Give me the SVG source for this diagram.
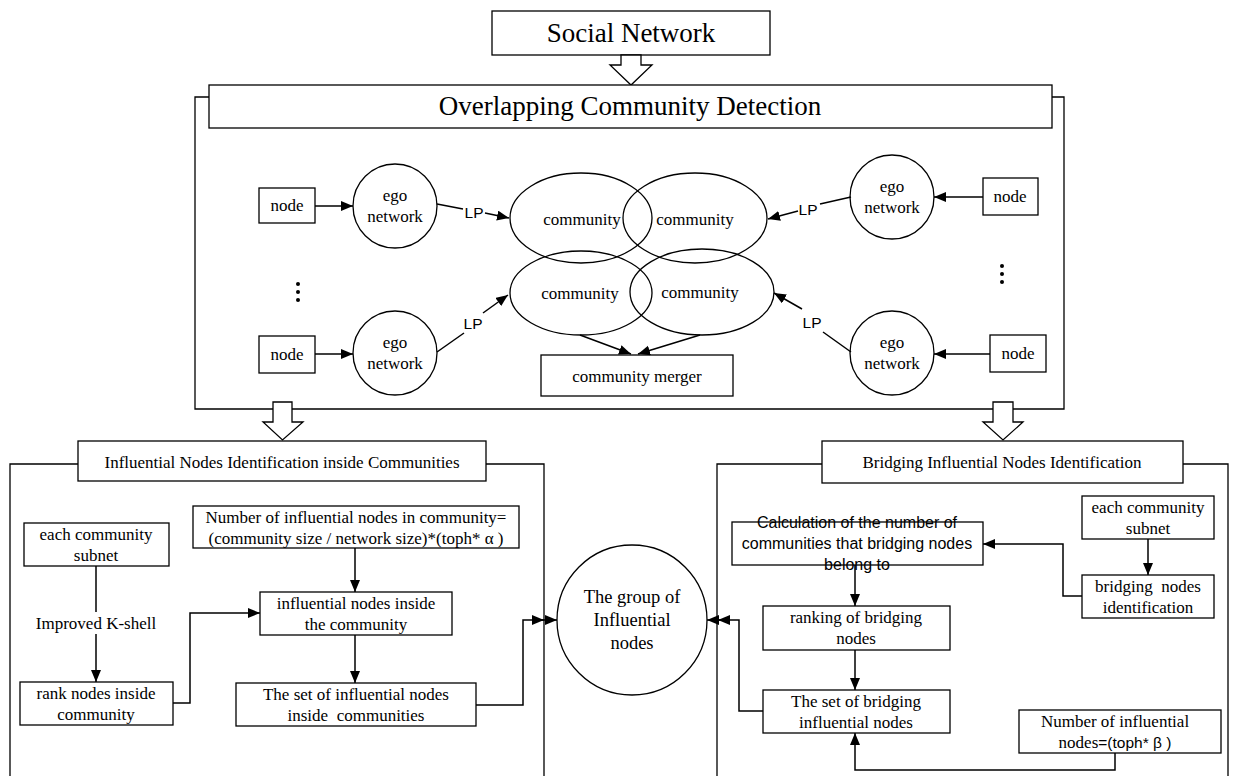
<svg xmlns="http://www.w3.org/2000/svg" width="1234" height="776" viewBox="0 0 1234 776">
<style>
.bx{fill:#fff;stroke:#000;stroke-width:1.3}
.fr{fill:none;stroke:#000;stroke-width:1.3}
.el{fill:none;stroke:#000;stroke-width:1.3}
.t{font-family:"Liberation Serif","Times New Roman",serif;font-size:17px;text-anchor:middle;dominant-baseline:central;fill:#000}
.s{font-family:"Liberation Sans",Arial,sans-serif;font-size:15.5px;text-anchor:middle;dominant-baseline:central;fill:#000}
.big{font-size:27px}
.ln{fill:none;stroke:#000;stroke-width:1.5}
.ar{fill:none;stroke:#000;stroke-width:1.5;marker-end:url(#ah)}
.ha{fill:#fff;stroke:#000;stroke-width:1.3}
</style>
<defs>
<marker id="ah" markerUnits="userSpaceOnUse" markerWidth="13" markerHeight="11" refX="12" refY="5" orient="auto">
<path d="M0,0 L12,5 L0,10 Z" fill="#000"/>
</marker>
</defs>

<!-- frames -->
<g id="frames">
<path class="fr" d="M209,97 H195 V409 H1064 V97 H1052"/>
<path class="fr" d="M78,464 H10 V776"/>
<path class="fr" d="M486,464 H544 V776"/>
<path class="fr" d="M822,464 H717 V776"/>
<path class="fr" d="M1183,464 H1228 V776"/>
</g>

<g id="social-network">
<rect class="bx" x="492" y="11" width="278" height="44"/>
<text class="t big" x="631" y="33">Social Network</text>
</g>

<g id="hollow-arrows">
<polygon class="ha" points="621,55 641,55 641,65 652,65 631,85 610,65 621,65"/>
<polygon class="ha" points="273,402 292,402 292,422 303,422 282.5,440 263,422 273,422"/>
<polygon class="ha" points="993,402 1013,402 1013,422 1023,422 1003,440 983,422 993,422"/>
</g>

<g id="ocd-header">
<rect class="bx" x="209" y="85" width="843" height="43"/>
<text class="t big" x="630" y="106">Overlapping Community Detection</text>
</g>

<g id="node-tl"><rect class="bx" x="259" y="188" width="56" height="35"/><text class="t" x="287" y="205">node</text></g>
<g id="node-bl"><rect class="bx" x="259" y="336" width="56" height="37"/><text class="t" x="287" y="354">node</text></g>
<g id="node-tr"><rect class="bx" x="983" y="178" width="55" height="37"/><text class="t" x="1010" y="196">node</text></g>
<g id="node-br"><rect class="bx" x="990" y="335" width="56" height="37"/><text class="t" x="1018" y="353">node</text></g>

<g id="ego-tl"><circle class="bx" cx="395" cy="206" r="42"/><text class="t" x="395" y="195">ego</text><text class="t" x="395" y="216">network</text></g>
<g id="ego-bl"><circle class="bx" cx="395" cy="353" r="42"/><text class="t" x="395" y="342">ego</text><text class="t" x="395" y="363">network</text></g>
<g id="ego-tr"><circle class="bx" cx="892" cy="197" r="42"/><text class="t" x="892" y="186">ego</text><text class="t" x="892" y="207">network</text></g>
<g id="ego-br"><circle class="bx" cx="892" cy="353" r="42"/><text class="t" x="892" y="342">ego</text><text class="t" x="892" y="363">network</text></g>

<g id="communities">
<ellipse class="el" cx="581" cy="218" rx="71" ry="45"/>
<ellipse class="el" cx="695" cy="218" rx="72" ry="45"/>
<ellipse class="el" cx="581" cy="293" rx="71" ry="42"/>
<ellipse class="el" cx="702" cy="292" rx="72" ry="43"/>
<text class="t" x="582" y="219">community</text>
<text class="t" x="695" y="219">community</text>
<text class="t" x="580" y="293">community</text>
<text class="t" x="700" y="292">community</text>
</g>

<g id="community-merger">
<rect class="bx" x="541" y="355" width="192" height="41"/>
<text class="t" x="637" y="376">community merger</text>
</g>

<g id="dots" fill="#000">
<circle cx="298" cy="284" r="2"/><circle cx="298" cy="292" r="2"/><circle cx="298" cy="300" r="2"/>
<circle cx="1002" cy="266" r="2"/><circle cx="1002" cy="274" r="2"/><circle cx="1002" cy="282" r="2"/>
</g>

<g id="lp-labels">
<text class="s" x="474" y="212">LP</text>
<text class="s" x="473" y="323">LP</text>
<text class="s" x="808" y="209">LP</text>
<text class="s" x="812" y="322">LP</text>
</g>

<!-- left panel -->
<g id="left-header"><rect class="bx" x="78" y="441" width="408" height="40"/><text class="t" x="282" y="462">Influential Nodes Identification inside Communities</text></g>
<g id="each-subnet-l"><rect class="bx" x="24" y="523" width="145" height="43"/><text class="t" x="96" y="534">each community</text><text class="t" x="96" y="555">subnet</text></g>
<g id="kshell-label"><text class="t" x="96" y="623">Improved K-shell</text></g>
<g id="rank-nodes"><rect class="bx" x="20" y="682" width="153" height="43"/><text class="t" x="96" y="693">rank nodes inside</text><text class="t" x="96" y="714">community</text></g>
<g id="number-l"><rect class="bx" x="193" y="506" width="326" height="42"/><text class="t" x="356" y="517">Number of influential nodes in community=</text><text class="t" x="356" y="538">(community size / network size)*(toph* α )</text></g>
<g id="infl-inside"><rect class="bx" x="260" y="592" width="192" height="43"/><text class="t" x="356" y="603">influential nodes inside</text><text class="t" x="356" y="624">the community</text></g>
<g id="set-inside"><rect class="bx" x="236" y="683" width="240" height="43"/><text class="t" x="356" y="694">The set of influential nodes</text><text class="t" x="356" y="715" style="white-space:pre">inside  communities</text></g>

<g id="group-circle"><circle class="bx" cx="632" cy="620" r="75"/><text class="t" style="font-size:18.5px" x="632" y="597">The group of</text><text class="t" style="font-size:18.5px" x="632" y="620">Influential</text><text class="t" style="font-size:18.5px" x="632" y="643">nodes</text></g>

<!-- right panel -->
<g id="right-header"><rect class="bx" x="822" y="441" width="361" height="42"/><text class="t" x="1002" y="462">Bridging Influential Nodes Identification</text></g>
<g id="each-subnet-r"><rect class="bx" x="1082" y="496" width="132" height="43"/><text class="t" x="1148" y="507">each community</text><text class="t" x="1148" y="528">subnet</text></g>
<g id="bridging-id"><rect class="bx" x="1082" y="575" width="132" height="43"/><text class="t" x="1148" y="586" style="white-space:pre">bridging  nodes</text><text class="t" x="1148" y="607">identification</text></g>
<g id="calc"><rect class="bx" x="732" y="522" width="251" height="43"/><text class="s" style="font-size:16px" x="857" y="522">Calculation of the number of</text><text class="s" style="font-size:16px" x="857" y="543">communities that bridging nodes</text><text class="s" style="font-size:16px" x="857" y="564">belong to</text></g>
<g id="ranking"><rect class="bx" x="763" y="606" width="187" height="44"/><text class="t" x="856" y="617">ranking of bridging</text><text class="t" x="856" y="638">nodes</text></g>
<g id="set-bridging"><rect class="bx" x="763" y="690" width="187" height="43"/><text class="t" x="856" y="701">The set of bridging</text><text class="t" x="856" y="722">influential nodes</text></g>
<g id="number-r"><rect class="bx" x="1019" y="710" width="202" height="43"/><text class="t" x="1115" y="721">Number of influential</text><text class="t" x="1115" y="742">nodes<tspan style="font-family:'Liberation Sans',Arial,sans-serif;font-size:15.5px">=(toph* β )</tspan></text></g>

<g id="connectors">
<path class="ar" d="M315,206 H353"/>
<path class="ar" d="M315,354 H353"/>
<path class="ar" d="M983,197 H934"/>
<path class="ar" d="M990,354 H934"/>
<path class="ln" d="M437,204 L463,209"/>
<path class="ar" d="M485,213 L509,218"/>
<path class="ln" d="M437,352 L464,333"/>
<path class="ar" d="M483,313 L508,295"/>
<path class="ln" d="M851,197 L820,204"/>
<path class="ar" d="M798,211 L768,219"/>
<path class="ln" d="M851,352 L823,332"/>
<path class="ar" d="M802,309 L774,293"/>
<path class="ar" d="M580,335 L631,354"/>
<path class="ar" d="M700,335 L638,354"/>
<path class="ln" d="M96,566 V612"/>
<path class="ar" d="M96,634 V682"/>
<path class="ar" d="M173,703 H190 V613 H260"/>
<path class="ar" d="M355,548 V592"/>
<path class="ar" d="M355,635 V683"/>
<path class="ar" d="M476,705 H523 V620 H544"/>
<path class="ar" d="M540,620 H557"/>
<path class="ar" d="M1148,539 V575"/>
<path class="ar" d="M1082,596 H1063 V544 H983"/>
<path class="ar" d="M855,565 V606"/>
<path class="ar" d="M855,650 V690"/>
<path class="ar" d="M763,711 H739 V620 H718"/>
<path class="ar" d="M722,620 H707"/>
<path class="ar" d="M1115,753 V770 H855 V733"/>
</g>
</svg>
